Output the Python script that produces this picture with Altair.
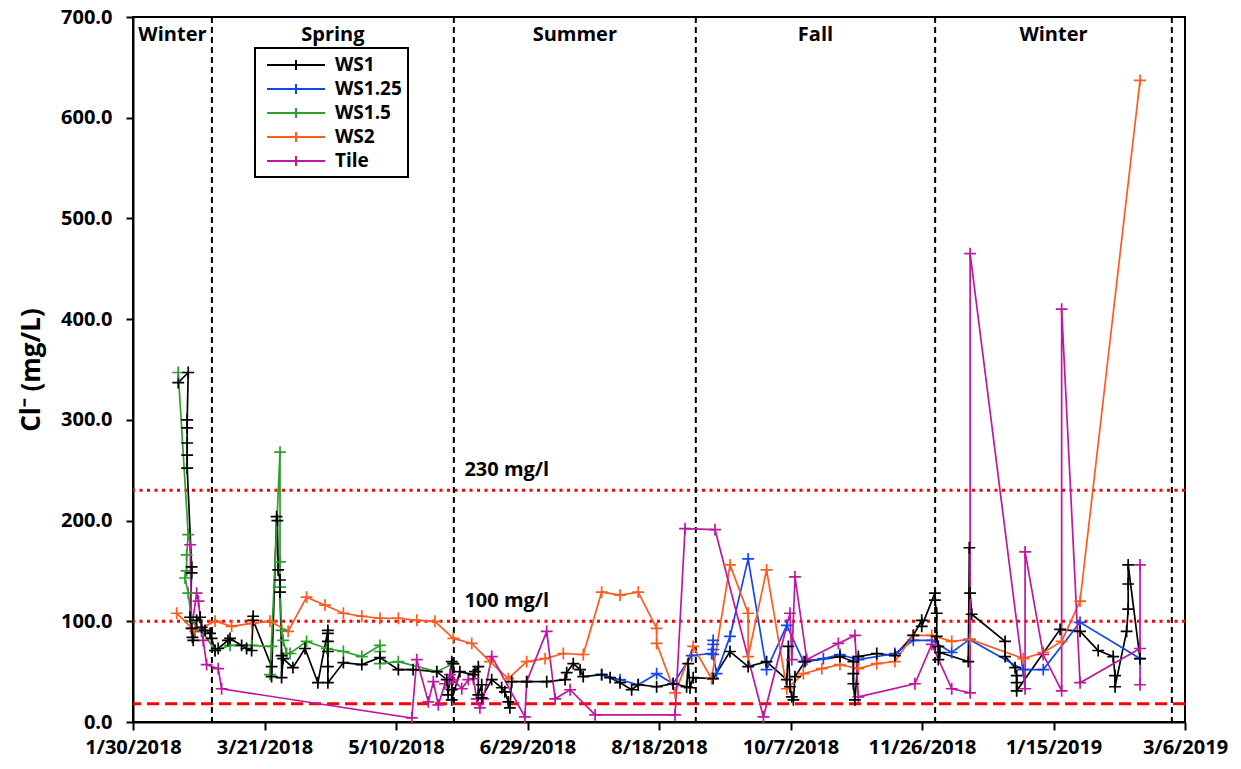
import altair as alt
import pandas as pd

BASE = pd.Timestamp("2018-01-30")

# ---- data (days since 1/30/2018, chloride mg/L) ----
ws1_day = [17.2, 21.0, 20.6, 20.6, 20.6, 20.6, 20.6, 22.3, 22.3, 21.7, 22.3, 22.6, 22.9, 24.2, 25.5, 26.1, 27.4,
           29.3, 29.9, 31.2, 32.4, 36.1, 36.9, 41.3, 43.2, 45.1, 45.7, 45.7, 52.7, 52.7, 54.6, 54.9, 55.2, 55.9,
           55.9, 56.5, 56.5, 57.1, 60.8, 65.4, 70.3, 74.1, 74.1, 74.1, 74.1, 74.1, 74.1, 80.0, 87.0, 93.9, 100.9,
           106.5, 115.5, 119.3, 119.8, 121.2, 121.8, 121.2, 121.2, 124.3, 129.4, 130.0, 131.3, 131.3, 132.6,
           132.6, 136.4, 140.2, 141.4, 142.7, 143.3, 144.0, 149.7, 157.3, 164.3, 164.9, 167.4, 170.0, 171.2,
           178.2, 181.4, 185.2, 189.6, 192.1, 199.1, 205.4, 210.5, 211.1, 211.8, 213.0, 220.6, 227.0, 233.9,
           240.9, 248.6, 249.2, 249.8, 250.5, 251.1, 251.7, 255.5, 268.8, 273.9, 273.9, 273.9, 274.5, 275.8,
           282.8, 289.7, 296.7, 299.9, 299.9, 304.9, 304.9, 305.6, 305.6, 306.2, 306.2, 306.8, 317.6, 318.0,
           318.3, 318.9, 331.6, 331.6, 335.4, 336.0, 336.0, 336.0, 352.5, 360.1, 367.0, 372.7, 373.4, 373.4,
           377.8, 378.4, 378.4, 378.4, 382.9]
ws1_val = [337, 347, 300, 292, 277, 265, 252, 154, 148, 104, 93, 84, 81, 101, 104, 94, 91,
           88, 83, 71, 73, 81, 83, 76, 73, 71, 105, 101, 55, 45, 204, 200, 151, 141,
           129, 66, 44, 63, 54, 73, 39, 91, 88, 80, 70, 55, 39, 59, 57, 64, 52,
           52, 50, 42, 27, 60, 58, 32, 22, 50, 47, 50, 55, 27, 37,
           24, 42, 34, 30, 20, 14, 40, 40, 40, 42, 49, 58, 52, 45,
           47, 44, 39, 32, 37, 35, 38, 35, 58, 34, 44, 43, 70, 55,
           60, 42, 75, 35, 25, 22, 45, 60, 65, 60, 48, 38, 22, 65,
           68, 66, 86, 101, 95, 128, 121, 108, 85, 75, 62, 69, 60, 173,
           128, 107, 80, 65, 54, 46, 39, 31, 92, 90, 71, 65, 46, 35,
           90, 112, 137, 156, 63]

ws125_day = [178.2, 185.2, 192.1, 199.1, 205.4, 212.4, 220.0, 220.6, 220.6, 220.6, 220.6, 221.9, 227.0, 233.9,
             240.9, 248.6, 254.9, 262.5, 268.8, 275.8, 289.7, 296.7, 303.7, 311.3, 318.0, 338.5, 346.1, 360.1,
             382.9]
ws125_val = [47, 42, 37, 48, 38, 66, 68, 81, 77, 72, 67, 48, 85, 162,
             52, 96, 60, 63, 67, 62, 68, 81, 81, 69, 82, 52, 52, 99,
             63]

ws15_day = [17.2, 21.0, 20.4, 20.4, 19.8, 21.0, 22.3, 26.1, 31.2, 36.9, 45.1, 52.7, 52.1, 55.9, 55.9, 55.9,
            56.5, 57.1, 58.4, 59.7, 66.0, 73.7, 80.0, 87.0, 93.9, 93.9, 93.9, 100.9, 115.5, 121.8]
ws15_val = [347, 186, 166, 150, 143, 128, 100, 91, 71, 76, 76, 75, 47, 268, 159, 134,
            91, 81, 68, 68, 80, 73, 70, 65, 76, 70, 58, 60, 50, 58]

ws2_day = [16.6, 23.6, 31.2, 37.5, 45.1, 52.1, 59.0, 66.0, 73.0, 80.0, 87.0, 93.9, 100.9, 107.9, 114.8,
           121.8, 128.8, 135.7, 142.7, 149.7, 156.7, 163.6, 171.2, 178.2, 185.2, 192.1, 199.1, 199.1, 206.1,
           213.0, 220.0, 227.0, 233.9, 233.9, 240.9, 248.6, 254.9, 261.9, 268.8, 275.8, 282.8, 289.7, 296.7,
           303.7, 311.3, 318.3, 338.5, 346.1, 353.1, 360.1, 382.9]
ws2_val = [108, 90, 100, 95, 98, 100, 90, 124, 116, 108, 105, 103, 103, 101, 100,
           83, 78, 60, 43, 60, 63, 68, 67, 129, 126, 129, 93, 78, 29,
           75, 43, 156, 108, 65, 151, 33, 48, 53, 57, 53, 58, 60, 86,
           86, 80, 82, 63, 69, 80, 120, 637]

tile_day = [21.7, 22.3, 24.2, 24.9, 26.1, 26.7, 28.0, 32.4, 33.7, 106.0, 107.9, 112.3, 114.2, 116.1, 118.6,
            120.5, 121.2, 121.8, 125.0, 127.5, 129.4, 130.7, 131.9, 133.2, 136.4, 149.0, 149.7, 157.3, 160.5,
            166.2, 175.7, 206.1, 209.9, 221.3, 239.7, 249.8, 250.5, 251.7, 256.2, 268.2, 274.5, 275.8, 297.3,
            303.7, 311.3, 318.3, 318.3, 339.2, 339.2, 346.1, 353.1, 353.1, 360.1, 382.9, 382.9, 382.9]
tile_val = [176, 93, 128, 120, 90, 81, 57, 53, 33, 4, 62, 20, 40, 17, 38,
            47, 40, 42, 33, 42, 43, 23, 14, 23, 65, 5, 40, 90, 23,
            32, 7, 7, 192, 191, 5, 108, 62, 144, 62, 78, 86, 25, 38,
            77, 33, 29, 465, 33, 169, 67, 31, 410, 39, 73, 156, 37]

series_names = ["WS1", "WS1.25", "WS1.5", "WS2", "Tile"]
series_colors = ["#000000", "#1446f0", "#2ca02c", "#ff5a1f", "#c0179f"]

season_bounds = ["2018-03-01", "2018-06-01", "2018-09-01", "2018-12-01", "2019-03-01"]
season_names = ["Winter", "Spring", "Summer", "Fall", "Winter"]
x_ticks = ["2018-01-30", "2018-03-21", "2018-05-10", "2018-06-29", "2018-08-18",
           "2018-10-07", "2018-11-26", "2019-01-15", "2019-03-06"]
x_domain = ["2018-01-30", "2019-03-06"]
y_ticks = [0, 100, 200, 300, 400, 500, 600, 700]

limit_values = [230, 100]
limit_labels = ["230 mg/l", "100 mg/l"]
limit_label_date = "2018-06-05"
baseline_value = [18]

FONT = "Open Sans"


def to_dt(s):
    t = pd.Timestamp(s)
    return alt.DateTime(year=t.year, month=t.month, date=t.day)


def frame(name, days, vals):
    return pd.DataFrame({
        "series": name,
        "date": BASE + pd.to_timedelta(days, unit="D"),
        "value": vals,
        "seq": list(range(len(days))),
    })


df = pd.concat([
    frame("WS1", ws1_day, ws1_val),
    frame("WS1.25", ws125_day, ws125_val),
    frame("WS1.5", ws15_day, ws15_val),
    frame("WS2", ws2_day, ws2_val),
    frame("Tile", tile_day, tile_val),
], ignore_index=True)

bounds_ts = pd.to_datetime(season_bounds)
starts = [pd.Timestamp(x_domain[0])] + list(bounds_ts[:-1])
mids = [s + (e - s) / 2 for s, e in zip(starts, bounds_ts)]
season_df = pd.DataFrame({"date": bounds_ts})
season_lbl_df = pd.DataFrame({"date": mids, "name": season_names})
limit_df = pd.DataFrame({"value": limit_values, "label": limit_labels,
                         "date": pd.to_datetime([limit_label_date] * len(limit_values))})
base_df = pd.DataFrame({"value": baseline_value})

x_scale = alt.Scale(domain=[to_dt(d) for d in x_domain])
y_scale = alt.Scale(domain=[0, 700])

x_enc = alt.X("date:T", scale=x_scale, axis=alt.Axis(
    values=[to_dt(d) for d in x_ticks], format="%-m/%-d/%Y", title=None, grid=False,
    labelFont=FONT, labelFontSize=20, labelFontWeight="bold", labelColor="black",
    tickSize=8, tickColor="black", tickWidth=2, domainColor="black", domainWidth=2,
    labelPadding=7, labelFlush=False, labelOverlap=False))
y_enc = alt.Y("value:Q", scale=y_scale, axis=alt.Axis(
    values=y_ticks, format=".1f", title="Cl\u207b (mg/L)", grid=False,
    labelFont=FONT, labelFontSize=20, labelFontWeight="bold", labelColor="black",
    titleFont=FONT, titleFontSize=26, titleFontWeight="bold", titleColor="black",
    tickSize=7, tickColor="black", tickWidth=2, domainColor="black", domainWidth=2,
    labelPadding=14, titlePadding=16))

lines = alt.Chart(df).mark_line(
    strokeWidth=1.7,
    point=alt.OverlayMarkDef(shape="M-1,0H1M0,-1V1", filled=False, size=140, strokeWidth=1.7),
).encode(
    x=x_enc,
    y=y_enc,
    color=alt.Color("series:N", scale=alt.Scale(domain=series_names, range=series_colors),
                    legend=alt.Legend(
                        title=None, orient="none", legendX=122, legendY=31, direction="vertical",
                        symbolType="M-2.9,0H2.9M0,-0.5V0.5", symbolSize=400, symbolStrokeWidth=2,
                        symbolFillColor="transparent", symbolOffset=24,
                        labelFont=FONT, labelFontSize=19, labelFontWeight="bold", labelColor="black",
                        strokeColor="black", fillColor="white", padding=6, rowPadding=3,
                        labelOffset=28, cornerRadius=0)),
    order="seq:Q",
)

season_rules = alt.Chart(season_df).mark_rule(color="black", strokeWidth=2, strokeDash=[6, 4]).encode(
    x=alt.X("date:T", scale=x_scale))
season_text = alt.Chart(season_lbl_df).mark_text(
    font=FONT, fontSize=20, fontWeight="bold", color="black", baseline="middle", align="center").encode(
    x=alt.X("date:T", scale=x_scale), y=alt.value(18), text="name:N")

limit_rules = alt.Chart(limit_df).mark_rule(color="#ff0000", strokeWidth=3, strokeDash=[3, 4.5]).encode(
    y=alt.Y("value:Q", scale=y_scale))
limit_text = alt.Chart(limit_df).mark_text(
    font=FONT, fontSize=20, fontWeight="bold", color="black", align="left", baseline="bottom", dy=-10).encode(
    x=alt.X("date:T", scale=x_scale), y=alt.Y("value:Q", scale=y_scale), text="label:N")
base_rule = alt.Chart(base_df).mark_rule(color="#ff0000", strokeWidth=3, strokeDash=[12, 6]).encode(
    y=alt.Y("value:Q", scale=y_scale))

chart = alt.layer(
    limit_rules, base_rule, season_rules, lines, season_text, limit_text
).properties(
    width=1052, height=705,
    padding={"left": 133, "top": 17, "right": 56, "bottom": 47},
    autosize=alt.AutoSizeParams(type="none"),
).configure_view(
    stroke="black", strokeWidth=2
).configure_legend(
    strokeWidth=2
)

chart.save("out.html", embed_options={"renderer": "svg", "actions": False})
